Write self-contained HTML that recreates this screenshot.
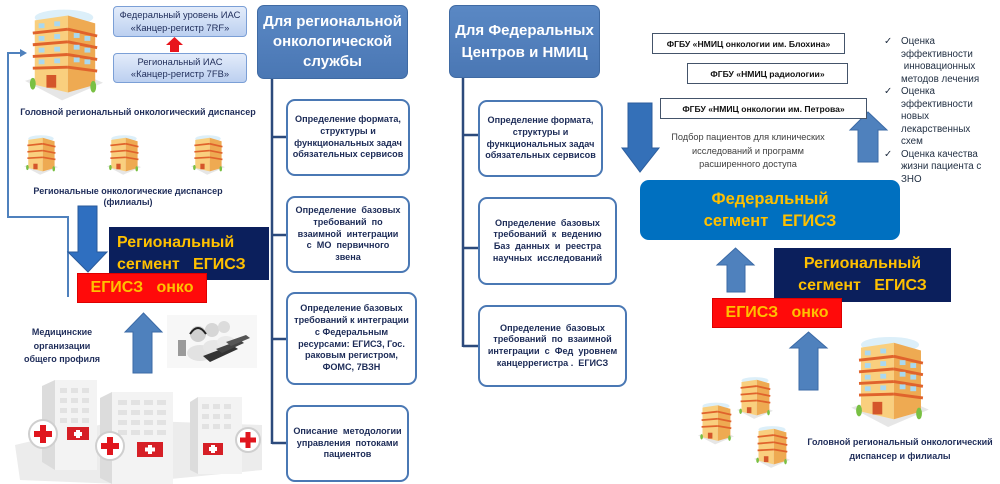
<!DOCTYPE html>
<html><head><meta charset="utf-8">
<style>
*{box-sizing:border-box}
body{margin:0;background:#fff}
#c{position:relative;width:1000px;height:484px;overflow:hidden;background:#fff;font-family:"Liberation Sans","DejaVu Sans",sans-serif}
.a{position:absolute}
.hdr{position:absolute;background:linear-gradient(#5a88c4,#4a77b4);border-radius:7px;color:#fff;font-weight:bold;font-size:15px;text-align:center;display:flex;align-items:center;justify-content:center;border:1px solid #3f6aa3}
.bx{position:absolute;border:2px solid #4a78b4;border-radius:9px;background:#fff;color:#1c2b57;font-weight:bold;font-size:9.1px;line-height:11.7px;text-align:center;display:flex;align-items:center;justify-content:center;white-space:nowrap}
.ias{position:absolute;border:1px solid #7b9fd6;border-radius:4px;background:linear-gradient(#e3ecfa,#bcd0f0);color:#1f2d5a;font-size:9.4px;line-height:12.5px;text-align:center;display:flex;align-items:center;justify-content:center;white-space:nowrap}
.fg{position:absolute;border:1px solid #44546a;background:#fff;color:#111;font-weight:bold;font-size:8.6px;display:flex;align-items:center;justify-content:center;white-space:nowrap}
.navy{position:absolute;background:#0b1f5c;color:#ffc000;font-weight:bold;font-size:16px;line-height:22px;white-space:nowrap}
.red{position:absolute;background:#ff0a0a;color:#ffc000;font-weight:bold;font-size:16px;display:flex;align-items:center;justify-content:center;white-space:nowrap;border:1px solid #d00}
.lbl{position:absolute;color:#1f2d5a;font-weight:bold;font-size:9px;line-height:13px;text-align:center;white-space:nowrap}
</style></head>
<body><div id="c">
<svg class="a" style="left:0;top:0" width="1000" height="484" viewBox="0 0 1000 484">
<!-- connectors middle -->
<g stroke="#2c4a7c" stroke-width="2.5" fill="none">
<line x1="272" y1="79" x2="272" y2="444"/>
<line x1="272" y1="137" x2="287" y2="137"/>
<line x1="272" y1="235" x2="287" y2="235"/>
<line x1="272" y1="339" x2="287" y2="339"/>
<line x1="272" y1="443" x2="287" y2="443"/>
<line x1="463" y1="78" x2="463" y2="347"/>
<line x1="463" y1="135" x2="479" y2="135"/>
<line x1="463" y1="248" x2="479" y2="248"/>
<line x1="463" y1="346" x2="479" y2="346"/>
</g>
<!-- left feedback line -->
<polyline points="22,53 8,53 8,217 68,217 68,297" fill="none" stroke="#4f81bd" stroke-width="2"/>
<polygon points="27,53 20,49 20,57" fill="#4f81bd"/>
<!-- red arrow -->
<polygon points="174.5,37 183,45 179,45 179,52 170,52 170,45 166,45" fill="#e8141c"/>
<!-- left down arrow -->
<polygon points="78,206 97,206 97,252 107,252 88,272 68,252 78,252" fill="#2f6fc0" stroke="#2a5a9a" stroke-width="1"/>
<!-- left up arrow -->
<polygon points="143.5,313 162,332 152,332 152,373 133,373 133,332 125,332" fill="#4f81bd" stroke="#3b6aa6" stroke-width="1"/>
<!-- right down arrow -->
<polygon points="628,103 652,103 652,148 659,148 640,172 622,148 628,148" fill="#3470b8" stroke="#2c5d9c" stroke-width="1"/>
<!-- right up arrow -->
<polygon points="868,112 887,130 878,130 878,162 858,162 858,130 850,130" fill="#4f81bd" stroke="#3b6aa6" stroke-width="1"/>
<!-- lower right up arrows -->
<polygon points="735.5,248 754,265 745,265 745,292 727,292 727,265 717,265" fill="#4f81bd" stroke="#3b6aa6" stroke-width="1"/>
<polygon points="808.5,332 827,348 818,348 818,390 799,390 799,348 790,348" fill="#4f81bd" stroke="#3b6aa6" stroke-width="1"/>

<!-- computer operators -->
<g>
<rect x="167" y="315" width="90" height="53" fill="#f7f7f7"/>
<rect x="178" y="340" width="8" height="16" fill="#9a9a9a"/>
<ellipse cx="200" cy="353" rx="13" ry="8" fill="#e2e2e2"/>
<ellipse cx="214" cy="347" rx="11" ry="7" fill="#e6e6e6"/>
<ellipse cx="226" cy="342" rx="9" ry="6" fill="#eaeaea"/>
<circle cx="198" cy="334" r="8" fill="#d0d0d0"/>
<circle cx="212" cy="330" r="7" fill="#d6d6d6"/>
<circle cx="224" cy="327" r="6" fill="#dcdcdc"/>
<path d="M190,334 q8,-12 16,0" stroke="#222" stroke-width="2" fill="none"/>
<polygon points="203,356 232,345 238,349 210,362" fill="#333"/>
<polygon points="216,349 240,340 244,343 222,353" fill="#444"/>
<polygon points="226,342 246,335 250,338 231,346" fill="#555"/>
</g>

<!-- hospitals -->
<polygon points="15,445 120,420 262,425 262,470 120,484 20,480" fill="#ececec"/>
<g>
<polygon points="42,386 55,380 55,470 42,462" fill="#dcdcdc"/>
<rect x="55" y="380" width="42" height="90" fill="#f3f3f3"/>
<g fill="#e2e2e2">
<rect x="60" y="388" width="7" height="5"/><rect x="71" y="388" width="7" height="5"/><rect x="82" y="388" width="7" height="5"/>
<rect x="60" y="398" width="7" height="5"/><rect x="71" y="398" width="7" height="5"/><rect x="82" y="398" width="7" height="5"/>
<rect x="60" y="408" width="7" height="5"/><rect x="71" y="408" width="7" height="5"/><rect x="82" y="408" width="7" height="5"/>
<rect x="60" y="418" width="7" height="5"/><rect x="71" y="418" width="7" height="5"/><rect x="82" y="418" width="7" height="5"/>
</g>
<rect x="67" y="427" width="22" height="13" fill="#d61f26"/>
<rect x="76" y="430" width="4" height="8" fill="#fff"/><rect x="74" y="432" width="8" height="4" fill="#fff"/>
<circle cx="43" cy="434" r="14" fill="#fff" stroke="#cfcfcf" stroke-width="2"/>
<rect x="40" y="425" width="6" height="18" fill="#e0161e"/><rect x="34" y="431" width="18" height="6" fill="#e0161e"/>
</g>
<g>
<polygon points="100,398 112,392 112,484 100,478" fill="#dcdcdc"/>
<rect x="112" y="392" width="61" height="92" fill="#f3f3f3"/>
<g fill="#e2e2e2">
<rect x="118" y="400" width="9" height="5"/><rect x="131" y="400" width="9" height="5"/><rect x="144" y="400" width="9" height="5"/><rect x="157" y="400" width="9" height="5"/>
<rect x="118" y="410" width="9" height="5"/><rect x="131" y="410" width="9" height="5"/><rect x="144" y="410" width="9" height="5"/><rect x="157" y="410" width="9" height="5"/>
<rect x="118" y="420" width="9" height="5"/><rect x="131" y="420" width="9" height="5"/><rect x="144" y="420" width="9" height="5"/><rect x="157" y="420" width="9" height="5"/>
<rect x="118" y="430" width="9" height="5"/><rect x="131" y="430" width="9" height="5"/><rect x="144" y="430" width="9" height="5"/><rect x="157" y="430" width="9" height="5"/>
</g>
<rect x="137" y="442" width="26" height="15" fill="#d61f26"/>
<rect x="148" y="445" width="4" height="9" fill="#fff"/><rect x="145" y="447.5" width="10" height="4" fill="#fff"/>
<circle cx="110" cy="446" r="14" fill="#fff" stroke="#cfcfcf" stroke-width="2"/>
<rect x="107" y="437" width="6" height="18" fill="#e0161e"/><rect x="101" y="443" width="18" height="6" fill="#e0161e"/>
</g>
<g>
<polygon points="190,402 198,397 198,474 190,470" fill="#dcdcdc"/>
<rect x="198" y="397" width="44" height="77" fill="#f3f3f3"/>
<g fill="#e2e2e2">
<rect x="202" y="404" width="7" height="5"/><rect x="213" y="404" width="7" height="5"/><rect x="224" y="404" width="7" height="5"/>
<rect x="202" y="414" width="7" height="5"/><rect x="213" y="414" width="7" height="5"/><rect x="224" y="414" width="7" height="5"/>
<rect x="202" y="424" width="7" height="5"/><rect x="213" y="424" width="7" height="5"/><rect x="224" y="424" width="7" height="5"/>
</g>
<rect x="203" y="443" width="20" height="12" fill="#d61f26"/>
<rect x="211" y="445" width="4" height="8" fill="#fff"/><rect x="209" y="447" width="8" height="4" fill="#fff"/>
<circle cx="248" cy="440" r="12" fill="#fff" stroke="#cfcfcf" stroke-width="2"/>
<rect x="245.5" y="432" width="5" height="16" fill="#e0161e"/><rect x="240" y="437.5" width="16" height="5" fill="#e0161e"/>
</g>

<!-- orange buildings (nested svgs) -->
<svg x="25" y="8" width="78" height="94" viewBox="0 0 80 95">
<ellipse cx="40" cy="9" rx="30" ry="8" fill="#dceff9"/>
<polygon points="0,74 38,94 80,76 44,60" fill="#e6e6e6"/>
<polygon points="10,12 44,7 44,86 10,78" fill="#f9cf7e"/>
<polygon points="44,7 72,15 72,78 44,86" fill="#eeaa52"/>
<g stroke="#e0632c" stroke-width="3"><line x1="8" y1="25" x2="44" y2="21"/><line x1="8" y1="37" x2="44" y2="34"/><line x1="8" y1="49" x2="44" y2="47"/><line x1="8" y1="61" x2="44" y2="60"/>
<line x1="44" y1="21" x2="74" y2="28"/><line x1="44" y1="34" x2="74" y2="40"/><line x1="44" y1="47" x2="74" y2="52"/><line x1="44" y1="60" x2="74" y2="64"/></g>
<g fill="#a9d8f0"><rect x="14" y="15" width="6" height="5"/><rect x="30" y="13" width="6" height="5"/><rect x="14" y="28" width="6" height="5"/><rect x="30" y="26" width="6" height="5"/><rect x="14" y="40" width="6" height="5"/><rect x="30" y="39" width="6" height="5"/><rect x="14" y="52" width="6" height="5"/><rect x="30" y="51" width="6" height="5"/>
<rect x="50" y="25" width="6" height="5"/><rect x="61" y="28" width="6" height="5"/><rect x="50" y="37" width="6" height="5"/><rect x="61" y="40" width="6" height="5"/><rect x="50" y="50" width="6" height="5"/><rect x="61" y="52" width="6" height="5"/></g>
<rect x="22" y="68" width="10" height="13" fill="#d4562a"/>
<ellipse cx="8" cy="77" rx="3" ry="6" fill="#79c043"/><ellipse cx="70" cy="80" rx="3" ry="6" fill="#79c043"/>
</svg>
<svg x="24" y="132" width="34" height="46" viewBox="0 0 80 95">
<ellipse cx="40" cy="9" rx="30" ry="8" fill="#dceff9"/>
<polygon points="0,74 38,94 80,76 44,60" fill="#e6e6e6"/>
<polygon points="10,12 44,7 44,86 10,78" fill="#f9cf7e"/>
<polygon points="44,7 72,15 72,78 44,86" fill="#eeaa52"/>
<g stroke="#e0632c" stroke-width="4"><line x1="8" y1="25" x2="44" y2="21"/><line x1="8" y1="40" x2="44" y2="37"/><line x1="8" y1="55" x2="44" y2="53"/><line x1="44" y1="21" x2="74" y2="28"/><line x1="44" y1="37" x2="74" y2="43"/><line x1="44" y1="53" x2="74" y2="58"/></g>
<rect x="22" y="68" width="10" height="13" fill="#d4562a"/>
<ellipse cx="8" cy="77" rx="3" ry="6" fill="#79c043"/><ellipse cx="70" cy="80" rx="3" ry="6" fill="#79c043"/>
</svg>
<svg x="107" y="132" width="34" height="46" viewBox="0 0 80 95">
<ellipse cx="40" cy="9" rx="30" ry="8" fill="#dceff9"/>
<polygon points="0,74 38,94 80,76 44,60" fill="#e6e6e6"/>
<polygon points="10,12 44,7 44,86 10,78" fill="#f9cf7e"/>
<polygon points="44,7 72,15 72,78 44,86" fill="#eeaa52"/>
<g stroke="#e0632c" stroke-width="4"><line x1="8" y1="25" x2="44" y2="21"/><line x1="8" y1="40" x2="44" y2="37"/><line x1="8" y1="55" x2="44" y2="53"/><line x1="44" y1="21" x2="74" y2="28"/><line x1="44" y1="37" x2="74" y2="43"/><line x1="44" y1="53" x2="74" y2="58"/></g>
<rect x="22" y="68" width="10" height="13" fill="#d4562a"/>
<ellipse cx="8" cy="77" rx="3" ry="6" fill="#79c043"/><ellipse cx="70" cy="80" rx="3" ry="6" fill="#79c043"/>
</svg>
<svg x="191" y="132" width="34" height="46" viewBox="0 0 80 95">
<ellipse cx="40" cy="9" rx="30" ry="8" fill="#dceff9"/>
<polygon points="0,74 38,94 80,76 44,60" fill="#e6e6e6"/>
<polygon points="10,12 44,7 44,86 10,78" fill="#f9cf7e"/>
<polygon points="44,7 72,15 72,78 44,86" fill="#eeaa52"/>
<g stroke="#e0632c" stroke-width="4"><line x1="8" y1="25" x2="44" y2="21"/><line x1="8" y1="40" x2="44" y2="37"/><line x1="8" y1="55" x2="44" y2="53"/><line x1="44" y1="21" x2="74" y2="28"/><line x1="44" y1="37" x2="74" y2="43"/><line x1="44" y1="53" x2="74" y2="58"/></g>
<rect x="22" y="68" width="10" height="13" fill="#d4562a"/>
<ellipse cx="8" cy="77" rx="3" ry="6" fill="#79c043"/><ellipse cx="70" cy="80" rx="3" ry="6" fill="#79c043"/>
</svg>
<!-- right buildings -->
<svg x="850" y="336" width="80" height="92" viewBox="0 0 80 95">
<ellipse cx="40" cy="9" rx="30" ry="8" fill="#dceff9"/>
<polygon points="0,74 38,94 80,76 44,60" fill="#e6e6e6"/>
<polygon points="10,12 44,7 44,86 10,78" fill="#f9cf7e"/>
<polygon points="44,7 72,15 72,78 44,86" fill="#eeaa52"/>
<g stroke="#e0632c" stroke-width="3"><line x1="8" y1="25" x2="44" y2="21"/><line x1="8" y1="37" x2="44" y2="34"/><line x1="8" y1="49" x2="44" y2="47"/><line x1="8" y1="61" x2="44" y2="60"/>
<line x1="44" y1="21" x2="74" y2="28"/><line x1="44" y1="34" x2="74" y2="40"/><line x1="44" y1="47" x2="74" y2="52"/><line x1="44" y1="60" x2="74" y2="64"/></g>
<g fill="#a9d8f0"><rect x="14" y="15" width="6" height="5"/><rect x="30" y="13" width="6" height="5"/><rect x="14" y="28" width="6" height="5"/><rect x="30" y="26" width="6" height="5"/><rect x="14" y="40" width="6" height="5"/><rect x="30" y="39" width="6" height="5"/><rect x="14" y="52" width="6" height="5"/><rect x="30" y="51" width="6" height="5"/>
<rect x="50" y="25" width="6" height="5"/><rect x="61" y="28" width="6" height="5"/><rect x="50" y="37" width="6" height="5"/><rect x="61" y="40" width="6" height="5"/><rect x="50" y="50" width="6" height="5"/><rect x="61" y="52" width="6" height="5"/></g>
<rect x="22" y="68" width="10" height="13" fill="#d4562a"/>
<ellipse cx="8" cy="77" rx="3" ry="6" fill="#79c043"/><ellipse cx="70" cy="80" rx="3" ry="6" fill="#79c043"/>
</svg>
<svg x="737" y="375" width="36" height="46" viewBox="0 0 80 95">
<ellipse cx="40" cy="9" rx="30" ry="8" fill="#dceff9"/>
<polygon points="0,74 38,94 80,76 44,60" fill="#e6e6e6"/>
<polygon points="10,12 44,7 44,86 10,78" fill="#f9cf7e"/>
<polygon points="44,7 72,15 72,78 44,86" fill="#eeaa52"/>
<g stroke="#e0632c" stroke-width="4"><line x1="8" y1="25" x2="44" y2="21"/><line x1="8" y1="40" x2="44" y2="37"/><line x1="8" y1="55" x2="44" y2="53"/><line x1="44" y1="21" x2="74" y2="28"/><line x1="44" y1="37" x2="74" y2="43"/><line x1="44" y1="53" x2="74" y2="58"/></g>
<rect x="22" y="68" width="10" height="13" fill="#d4562a"/>
<ellipse cx="8" cy="77" rx="3" ry="6" fill="#79c043"/><ellipse cx="70" cy="80" rx="3" ry="6" fill="#79c043"/>
</svg>
<svg x="698" y="400" width="36" height="47" viewBox="0 0 80 95">
<ellipse cx="40" cy="9" rx="30" ry="8" fill="#dceff9"/>
<polygon points="0,74 38,94 80,76 44,60" fill="#e6e6e6"/>
<polygon points="10,12 44,7 44,86 10,78" fill="#f9cf7e"/>
<polygon points="44,7 72,15 72,78 44,86" fill="#eeaa52"/>
<g stroke="#e0632c" stroke-width="4"><line x1="8" y1="25" x2="44" y2="21"/><line x1="8" y1="40" x2="44" y2="37"/><line x1="8" y1="55" x2="44" y2="53"/><line x1="44" y1="21" x2="74" y2="28"/><line x1="44" y1="37" x2="74" y2="43"/><line x1="44" y1="53" x2="74" y2="58"/></g>
<rect x="22" y="68" width="10" height="13" fill="#d4562a"/>
<ellipse cx="8" cy="77" rx="3" ry="6" fill="#79c043"/><ellipse cx="70" cy="80" rx="3" ry="6" fill="#79c043"/>
</svg>
<svg x="754" y="424" width="36" height="46" viewBox="0 0 80 95">
<ellipse cx="40" cy="9" rx="30" ry="8" fill="#dceff9"/>
<polygon points="0,74 38,94 80,76 44,60" fill="#e6e6e6"/>
<polygon points="10,12 44,7 44,86 10,78" fill="#f9cf7e"/>
<polygon points="44,7 72,15 72,78 44,86" fill="#eeaa52"/>
<g stroke="#e0632c" stroke-width="4"><line x1="8" y1="25" x2="44" y2="21"/><line x1="8" y1="40" x2="44" y2="37"/><line x1="8" y1="55" x2="44" y2="53"/><line x1="44" y1="21" x2="74" y2="28"/><line x1="44" y1="37" x2="74" y2="43"/><line x1="44" y1="53" x2="74" y2="58"/></g>
<rect x="22" y="68" width="10" height="13" fill="#d4562a"/>
<ellipse cx="8" cy="77" rx="3" ry="6" fill="#79c043"/><ellipse cx="70" cy="80" rx="3" ry="6" fill="#79c043"/>
</svg>
</svg>

<!-- IAS boxes -->
<div class="ias" style="left:113px;top:6px;width:134px;height:31px">Федеральный уровень ИАС<br>«Канцер-регистр 7RF»</div>
<div class="ias" style="left:113px;top:53px;width:134px;height:30px">Региональный ИАС<br>«Канцер-регистр 7FB»</div>

<div class="lbl" style="left:12px;top:106px;width:252px">Головной региональный онкологический диспансер</div>
<div class="lbl" style="left:18px;top:186px;width:220px;line-height:11px">Региональные онкологические диспансер<br>(филиалы)</div>
<div class="lbl" style="left:10px;top:326px;width:104px;line-height:13.5px">Медицинские<br>организации<br>общего профиля</div>

<div class="navy" style="left:109px;top:227px;width:160px;height:53px;padding:5px 0 0 8px">Региональный<br>сегмент&nbsp;&nbsp; ЕГИСЗ</div>
<div class="red" style="left:77px;top:273px;width:130px;height:30px">ЕГИСЗ&nbsp;&nbsp; онко</div>

<!-- headers -->
<div class="hdr" style="left:257px;top:5px;width:151px;height:74px;line-height:20px">Для региональной<br>онкологической<br>службы</div>
<div class="hdr" style="left:449px;top:5px;width:151px;height:73px;line-height:22px">Для Федеральных<br>Центров и НМИЦ</div>

<!-- middle boxes -->
<div class="bx" style="left:286px;top:99px;width:124px;height:77px">Определение формата,<br>структуры и<br>функциональных задач<br>обязательных сервисов</div>
<div class="bx" style="left:286px;top:196px;width:124px;height:77px">Определение&nbsp; базовых<br>требований&nbsp; по<br>взаимной&nbsp; интеграции<br>с&nbsp; МО&nbsp; первичного<br>звена</div>
<div class="bx" style="left:286px;top:292px;width:131px;height:93px">Определение базовых<br>требований к интеграции<br>с Федеральным<br>ресурсами: ЕГИСЗ, Гос.<br>раковым регистром,<br>ФОМС, 7ВЗН</div>
<div class="bx" style="left:286px;top:405px;width:123px;height:77px">Описание&nbsp; методологии<br>управления&nbsp; потоками<br>пациентов</div>

<!-- federal boxes -->
<div class="bx" style="left:478px;top:100px;width:125px;height:77px">Определение формата,<br>структуры и<br>функциональных задач<br>обязательных сервисов</div>
<div class="bx" style="left:478px;top:197px;width:139px;height:88px">Определение&nbsp; базовых<br>требований&nbsp; к&nbsp; ведению<br>Баз&nbsp; данных&nbsp; и&nbsp; реестра<br>научных&nbsp; исследований</div>
<div class="bx" style="left:478px;top:305px;width:149px;height:82px">Определение&nbsp; базовых<br>требований&nbsp; по&nbsp; взаимной<br>интеграции&nbsp; с&nbsp; Фед&nbsp; уровнем<br>канцеррегистра .&nbsp; ЕГИСЗ</div>

<!-- FGBU boxes -->
<div class="fg" style="left:652px;top:33px;width:193px;height:21px">ФГБУ «НМИЦ онкологии им. Блохина»</div>
<div class="fg" style="left:687px;top:63px;width:161px;height:21px">ФГБУ «НМИЦ радиологии»</div>
<div class="fg" style="left:660px;top:98px;width:207px;height:21px">ФГБУ «НМИЦ онкологии им. Петрова»</div>

<div class="a" style="left:660px;top:131px;width:176px;text-align:center;font-size:9.2px;line-height:13.5px;color:#404040;white-space:nowrap">Подбор пациентов для клинических<br>исследований и программ<br>расширенного доступа</div>

<div class="a" style="left:640px;top:180px;width:260px;height:60px;background:#0070c0;border-radius:9px;color:#ffc000;font-weight:bold;font-size:16.5px;line-height:22px;text-align:center;padding-top:8px;white-space:nowrap">Федеральный<br>сегмент&nbsp;&nbsp; ЕГИСЗ</div>

<!-- checklist -->
<div class="a" style="left:884px;top:36px;width:116px;font-size:9.8px;line-height:12.5px;color:#1f2d40;white-space:nowrap">
<div><span style="display:inline-block;width:17px;text-align:left">✓</span>Оценка</div>
<div style="padding-left:17px">эффективности</div>
<div style="padding-left:17px">&nbsp;инновационных</div>
<div style="padding-left:17px">методов лечения</div>
<div><span style="display:inline-block;width:17px;text-align:left">✓</span>Оценка</div>
<div style="padding-left:17px">эффективности</div>
<div style="padding-left:17px">новых</div>
<div style="padding-left:17px">лекарственных</div>
<div style="padding-left:17px">схем</div>
<div><span style="display:inline-block;width:17px;text-align:left">✓</span>Оценка качества</div>
<div style="padding-left:17px">жизни пациента с</div>
<div style="padding-left:17px">ЗНО</div>
</div>

<div class="navy" style="left:774px;top:248px;width:177px;height:54px;text-align:center;padding-top:5px">Региональный<br>сегмент&nbsp;&nbsp; ЕГИСЗ</div>
<div class="red" style="left:712px;top:298px;width:130px;height:30px">ЕГИСЗ&nbsp;&nbsp; онко</div>

<div class="lbl" style="left:800px;top:435px;width:200px;line-height:14px">Головной региональный онкологический<br>диспансер и филиалы</div>
</div></body></html>
